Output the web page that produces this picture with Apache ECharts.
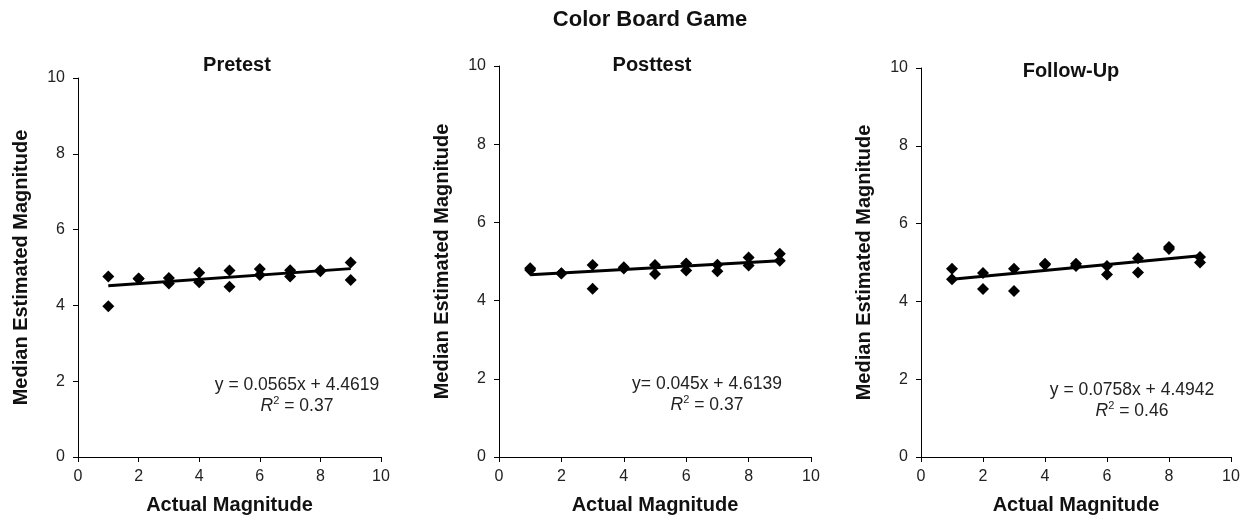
<!DOCTYPE html>
<html>
<head>
<meta charset="utf-8">
<script src="https://cdn.jsdelivr.net/npm/echarts@6/dist/echarts.min.js"></script>
<style>
html,body{margin:0;padding:0;background:#fff;}
#chart{width:1256px;height:520px;}
</style>
</head>
<body>
<div id="chart"></div>
<script>
// ---- data ----
const chartTitle = 'Color Board Game';
const panelTitles = ['Pretest', 'Posttest', 'Follow-Up'];
const xAxisTitle = 'Actual Magnitude';
const yAxisTitle = 'Median Estimated Magnitude';
const tickValues = [0, 2, 4, 6, 8, 10];

const pretestX = [1, 1, 2, 2, 3, 3, 4, 4, 5, 5, 6, 6, 7, 7, 8, 8, 9, 9];
const pretestY = [4.76, 3.98, 4.71, 4.70, 4.72, 4.58, 4.86, 4.61, 4.92, 4.49, 4.96, 4.80, 4.93, 4.76, 4.93, 4.90, 5.13, 4.67];

const posttestX = [1, 1, 2, 2, 3, 3, 4, 4, 5, 5, 6, 6, 7, 7, 8, 8, 9, 9];
const posttestY = [4.83, 4.78, 4.69, 4.70, 4.91, 4.30, 4.85, 4.82, 4.91, 4.68, 4.95, 4.77, 4.92, 4.75, 5.10, 4.90, 5.20, 5.02];

const followX = [1, 1, 2, 2, 3, 3, 4, 4, 5, 5, 6, 6, 7, 7, 8, 8, 9, 9];
const followY = [4.84, 4.57, 4.73, 4.32, 4.84, 4.27, 4.97, 4.94, 4.97, 4.91, 4.91, 4.69, 5.11, 4.74, 5.40, 5.35, 5.14, 5.00];

const slopes = [0.0565, 0.045, 0.0758];
const intercepts = [4.4619, 4.6139, 4.4942];
const trendRange = [1, 9];
const equationTexts = ['y = 0.0565x + 4.4619', 'y= 0.045x + 4.6139', 'y = 0.0758x + 4.4942'];
const r2Texts = ['0.37', '0.37', '0.46'];

// ---- layout ----
const grids = [
  {left: 78, top: 78, width: 303, height: 379},
  {left: 499, top: 66, width: 312, height: 391},
  {left: 921, top: 68, width: 310, height: 389}
];
const panelTitlePos = [[237, 65], [652, 65], [1071, 71]];
const eqPos = [[297, 385], [707, 384], [1132, 390]];
const FONT = '"Liberation Sans", Arial, Helvetica, sans-serif';

const xs = [pretestX, posttestX, followX];
const ys = [pretestY, posttestY, followY];

const option = {
  backgroundColor: '#fff',
  animation: false,
  grid: grids.map(g => Object.assign({containLabel: false}, g)),
  xAxis: grids.map((g, i) => ({
    gridIndex: i, type: 'value', min: 0, max: 10, interval: 2,
    name: xAxisTitle, nameLocation: 'middle', nameGap: 38,
    nameTextStyle: {fontFamily: FONT, fontWeight: 'bold', fontSize: 20, color: '#111'},
    axisLine: {show: true, onZero: false, lineStyle: {color: '#000', width: 1}},
    axisTick: {show: true, inside: false, length: 5, lineStyle: {color: '#000'}},
    axisLabel: {fontFamily: FONT, fontSize: 16, color: '#222', margin: 12},
    splitLine: {show: false}
  })),
  yAxis: grids.map((g, i) => ({
    gridIndex: i, type: 'value', min: 0, max: 10, interval: 2,
    name: yAxisTitle, nameLocation: 'middle', nameGap: 47, nameRotate: 90,
    nameTextStyle: {fontFamily: FONT, fontWeight: 'bold', fontSize: 20, color: '#111'},
    axisLine: {show: true, onZero: false, lineStyle: {color: '#000', width: 1}},
    axisTick: {show: true, inside: false, length: 5, lineStyle: {color: '#000'}},
    axisLabel: {fontFamily: FONT, fontSize: 16, color: '#222', margin: 13},
    splitLine: {show: false}
  })),
  series: [],
  graphic: []
};

for (let i = 0; i < 3; i++) {
  option.series.push({
    type: 'line', xAxisIndex: i, yAxisIndex: i,
    data: trendRange.map(x => [x, slopes[i] * x + intercepts[i]]),
    showSymbol: false, symbol: 'none',
    lineStyle: {color: '#000', width: 3}, z: 3, silent: true
  });
  option.series.push({
    type: 'scatter', xAxisIndex: i, yAxisIndex: i,
    data: xs[i].map((x, k) => [x, ys[i][k]]),
    symbol: 'diamond', symbolSize: 12,
    itemStyle: {color: '#000', opacity: 1}, z: 4
  });
  option.graphic.push({
    type: 'text', x: panelTitlePos[i][0], y: panelTitlePos[i][1],
    style: {text: panelTitles[i], font: 'bold 20px ' + FONT, fill: '#111', align: 'center', verticalAlign: 'middle'}
  });
  option.graphic.push({
    type: 'text', x: eqPos[i][0], y: eqPos[i][1],
    style: {text: equationTexts[i], font: '17.5px ' + FONT, fill: '#222', align: 'center', verticalAlign: 'middle'}
  });
  option.graphic.push({
    type: 'text', x: eqPos[i][0], y: eqPos[i][1] + 20,
    style: {
      text: '{it|R}{sup|2}{n| = ' + r2Texts[i] + '}',
      align: 'center', verticalAlign: 'middle',
      rich: {
        it: {font: 'italic 17.5px ' + FONT, fill: '#222', lineHeight: 20, verticalAlign: 'bottom'},
        sup: {font: '11px ' + FONT, fill: '#222', lineHeight: 20, verticalAlign: 'top', padding: [0, 0, 8, 0]},
        n: {font: '17.5px ' + FONT, fill: '#222', lineHeight: 20, verticalAlign: 'bottom'}
      }
    }
  });
}

option.graphic.push({
  type: 'text', x: 650, y: 20,
  style: {text: chartTitle, font: 'bold 22px ' + FONT, fill: '#111', align: 'center', verticalAlign: 'middle'}
});

const chart = echarts.init(document.getElementById('chart'), null, {renderer: 'canvas'});
chart.setOption(option);
</script>
</body>
</html>
